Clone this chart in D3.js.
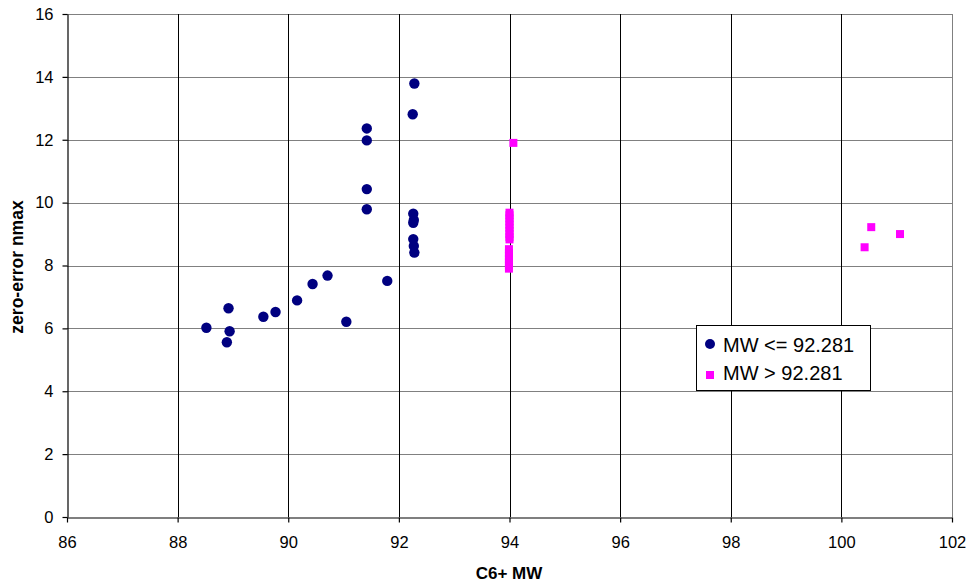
<!DOCTYPE html>
<html>
<head>
<meta charset="utf-8">
<script src="https://cdn.jsdelivr.net/npm/d3@7"></script>
<style>
  body { margin: 0; background: #fff; }
  svg { font-family: "Liberation Sans", Arial, sans-serif; }
</style>
</head>
<body>
<main></main>
<script>
// series: MW <= 92.281
const lowX = [92.28, 92.25, 91.42, 91.42, 91.42, 91.42, 92.26, 92.27, 92.26, 92.26, 92.27, 92.28,
              88.52, 88.92, 88.94, 88.89, 89.55, 89.77, 90.16, 90.44, 90.71, 91.05, 91.79];
const lowY = [13.79, 12.81, 12.36, 11.98, 10.43, 9.79, 9.65, 9.45, 9.36, 8.84, 8.62, 8.41,
              6.02, 6.64, 5.91, 5.56, 6.37, 6.52, 6.89, 7.41, 7.68, 6.21, 7.51];

// series: MW > 92.281
const highX = [94.07, 94.0, 94.0, 94.0, 94.0, 94.0, 94.0, 94.0, 94.0, 94.0, 94.0,
               93.99, 93.99, 93.99, 93.99, 93.99, 93.99, 93.99,
               100.54, 101.06, 100.42];
const highY = [11.9, 9.68, 9.6, 9.5, 9.4, 9.3, 9.2, 9.1, 9.0, 8.9, 8.83,
               8.52, 8.4, 8.3, 8.2, 8.1, 8.0, 7.9,
               9.22, 9.0, 8.58];

const xTicks = [86, 88, 90, 92, 94, 96, 98, 100, 102];
const yTicks = [0, 2, 4, 6, 8, 10, 12, 14, 16];
const legendLabels = ["MW <= 92.281", "MW > 92.281"];

var width = 969, height = 584;
var plotLeft = 67, plotRight = 952, plotTop = 14, plotBottom = 517;

var svg = d3.select("main").append("svg")
  .attr("width", width)
  .attr("height", height);

const xScale = d3.scaleLinear().domain([86, 102]).range([plotLeft, plotRight]);
const yScale = d3.scaleLinear().domain([0, 16]).range([plotBottom, plotTop]);

// gridlines
svg.append("g").selectAll("line")
  .data(yTicks.slice(1))
  .enter().append("line")
  .attr("x1", plotLeft).attr("x2", plotRight)
  .attr("y1", d => Math.round(yScale(d)) + 0.5)
  .attr("y2", d => Math.round(yScale(d)) + 0.5)
  .attr("stroke", "#808080");

svg.append("g").selectAll("line")
  .data(xTicks.slice(1, -1))
  .enter().append("line")
  .attr("y1", plotTop).attr("y2", plotBottom)
  .attr("x1", d => Math.round(xScale(d)) + 0.5)
  .attr("x2", d => Math.round(xScale(d)) + 0.5)
  .attr("stroke", "#000");

// right border
svg.append("line")
  .attr("x1", Math.round(plotRight) + 0.5).attr("x2", Math.round(plotRight) + 0.5)
  .attr("y1", plotTop).attr("y2", plotBottom)
  .attr("stroke", "#808080");

// axes
var x_axis = d3.axisBottom(xScale).tickValues(xTicks).tickSize(5).tickSizeOuter(0).tickPadding(14);
svg.append("g")
  .attr("id", "x-axis")
  .attr("transform", "translate(0," + (plotBottom + 0.5) + ")")
  .call(x_axis);

var y_axis = d3.axisLeft(yScale).tickValues(yTicks).tickSize(5).tickSizeOuter(0).tickPadding(9);
svg.append("g")
  .attr("id", "y-axis")
  .attr("transform", "translate(" + (plotLeft + 0.5) + ",0)")
  .call(y_axis);

svg.selectAll("#x-axis text, #y-axis text")
  .style("font-size", "16.5px")
  .style("font-family", "Liberation Sans, Arial, sans-serif")
  .attr("fill", "#000");
svg.selectAll("#x-axis path, #y-axis path, #x-axis line, #y-axis line")
  .attr("stroke", "#000")
  .attr("stroke-width", 1.2);

// axis titles
svg.append("text")
  .text("C6+ MW")
  .attr("x", 509)
  .attr("y", 579)
  .attr("text-anchor", "middle")
  .style("font-size", "17px")
  .style("font-weight", "bold");

svg.append("text")
  .text("zero-error nmax")
  .attr("transform", "translate(23,267) rotate(-90)")
  .attr("text-anchor", "middle")
  .style("font-size", "17.5px")
  .style("font-weight", "bold");

// points
svg.append("g").selectAll("rect")
  .data(highX)
  .enter().append("rect")
  .attr("x", (d, i) => xScale(d) - 4)
  .attr("y", (d, i) => yScale(highY[i]) - 4)
  .attr("width", 8)
  .attr("height", 8)
  .attr("fill", "#ff00ff");

svg.append("g").selectAll("circle")
  .data(lowX)
  .enter().append("circle")
  .attr("cx", d => xScale(d))
  .attr("cy", (d, i) => yScale(lowY[i]))
  .attr("r", 5.2)
  .attr("fill", "#000080");

// legend
var legend = svg.append("g").attr("transform", "translate(696.5,325.5)");
legend.append("rect")
  .attr("width", 174)
  .attr("height", 65)
  .attr("fill", "#fff")
  .attr("stroke", "#000");

legend.append("circle")
  .attr("cx", 13.5).attr("cy", 18.5).attr("r", 5)
  .attr("fill", "#000080");
legend.append("rect")
  .attr("x", 9.5).attr("y", 45.5).attr("width", 8).attr("height", 8)
  .attr("fill", "#ff00ff");

legend.selectAll("text.lab")
  .data(legendLabels)
  .enter().append("text")
  .attr("class", "lab")
  .text(d => d)
  .attr("x", 26.5)
  .attr("y", (d, i) => 26.5 + i * 28)
  .style("font-size", "20px");
</script>
</body>
</html>
